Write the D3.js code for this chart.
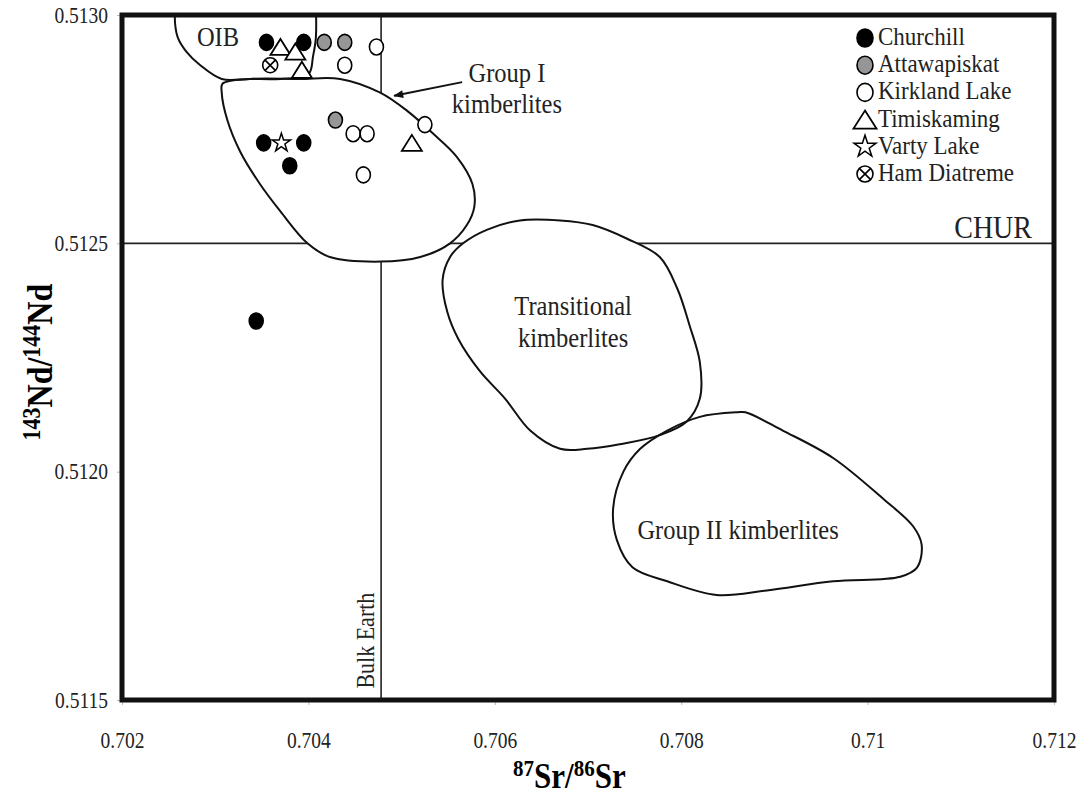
<!DOCTYPE html>
<html>
  <head>
    <meta charset="UTF-8">
    <title>Sr-Nd isotopes of kimberlites</title>
    <style>
      body { margin: 0; background: #fff; }
      svg { display: block; font-family: "Liberation Serif", "Times New Roman", serif; }
    </style>
  </head>
  <body>
    <svg></svg>

    <script src="https://cdn.jsdelivr.net/npm/d3@7"></script>
    <script>

/* DATA : [87Sr/86Sr, 143Nd/144Nd] */

var churchill = [[0.70355, 0.51294], [0.70395, 0.51294], [0.70352, 0.51272],
  [0.70395, 0.51272], [0.70380, 0.51267], [0.70344, 0.51233]];
var attawapiskat = [[0.70417, 0.51294], [0.70439, 0.51294], [0.70429, 0.51277]];
var kirklandLake = [[0.70473, 0.51293], [0.70439, 0.51289], [0.70448, 0.51274],
  [0.70463, 0.51274], [0.70525, 0.51276], [0.70459, 0.51265]];
var timiskaming = [[0.70370, 0.51293], [0.70386, 0.51292], [0.70393, 0.51288], [0.70511, 0.51272]];
var vartyLake = [[0.70371, 0.51272]];
var hamDiatreme = [[0.70359, 0.51289]];

// fields (outlines)
var oibField = [[0.70257, 0.51302], [0.70257, 0.51298], [0.70260, 0.51295], [0.70269, 0.51292],
  [0.70284, 0.51289], [0.70307, 0.51286], [0.70337, 0.51286], [0.70370, 0.51286], [0.70400, 0.51287],
  [0.70405, 0.51291], [0.70408, 0.51295], [0.70408, 0.51302]];
var groupIField = [[0.70308, 0.51285], [0.70337, 0.51286], [0.70391, 0.51286], [0.70434, 0.51286],
  [0.70477, 0.51283], [0.70506, 0.51279], [0.70534, 0.51274], [0.70559, 0.51269],
  [0.70576, 0.51263], [0.70578, 0.51258], [0.70570, 0.51254], [0.70552, 0.51250],
  [0.70520, 0.51247], [0.70477, 0.51246], [0.70423, 0.51247], [0.70399, 0.51250],
  [0.70370, 0.51257], [0.70348, 0.51263], [0.70327, 0.51270], [0.70313, 0.51277], [0.70307, 0.51283]];
var transitionalField = [[0.70566, 0.51250], [0.70592, 0.51253], [0.70627, 0.51255], [0.70670, 0.51255],
  [0.70705, 0.51254], [0.70742, 0.51251], [0.70777, 0.51247], [0.70796, 0.51240],
  [0.70809, 0.51232], [0.70820, 0.51224], [0.70820, 0.51216], [0.70806, 0.51211],
  [0.70777, 0.51208], [0.70734, 0.51206], [0.70699, 0.51205], [0.70670, 0.51205],
  [0.70638, 0.51209], [0.70611, 0.51216], [0.70584, 0.51222], [0.70561, 0.51229],
  [0.70549, 0.51235], [0.70544, 0.51242], [0.70552, 0.51247]];
var groupIIField = [[0.70860, 0.51213], [0.70820, 0.51212], [0.70785, 0.51209], [0.70756, 0.51205],
  [0.70738, 0.51200], [0.70727, 0.51192], [0.70731, 0.51185], [0.70748, 0.51179],
  [0.70785, 0.51176], [0.70838, 0.51173], [0.70892, 0.51174], [0.70963, 0.51176],
  [0.71035, 0.51177], [0.71053, 0.51179], [0.71058, 0.51184], [0.71049, 0.51188],
  [0.71017, 0.51194], [0.70963, 0.51203], [0.70909, 0.51209], [0.70869, 0.51213]];

// reference lines
var chur = 0.5125;
var bulkEarth = 0.70478;

// ticks
var xTicks = [0.702, 0.704, 0.706, 0.708, 0.710, 0.712];
var xTickLabels = ["0.702", "0.704", "0.706", "0.708", "0.71", "0.712"];
var yTicks = [0.5115, 0.5120, 0.5125, 0.5130];
var yTickLabels = ["0.5115", "0.5120", "0.5125", "0.5130"];

// legend
var legendNames = ["Churchill", "Attawapiskat", "Kirkland Lake", "Timiskaming", "Varty Lake", "Ham Diatreme"];
var legendSymbols = ["black", "grey", "white", "triangle", "star", "ham"];

// field labels : text, [sr, nd]
var fieldLabels = [
  {"text": "OIB", "at": [0.70303, 0.51295]},
  {"text": "Group I", "at": [0.70613, 0.51287]},
  {"text": "kimberlites", "at": [0.70613, 0.512802]},
  {"text": "Transitional", "at": [0.70684, 0.51236]},
  {"text": "kimberlites", "at": [0.70684, 0.51229]},
  {"text": "Group II kimberlites", "at": [0.70861, 0.51187]}
];
var arrowFrom = [0.70565, 0.512853];
var arrowTo = [0.70492, 0.512823];

var config = {
  "width": 1085,
  "height": 797,
  "margin": {"top": 15, "right": 31, "bottom": 97, "left": 122},
  "stretch": 1.13   // the scanned figure's text is a bit taller than wide
};

/* BUILD THE CHART */

var svg = d3.select("svg")
  .attr("width", config.width)
  .attr("height", config.height);

var margin = config.margin,
  width = config.width - margin.left - margin.right,
  height = config.height - margin.top - margin.bottom;

var x = d3.scaleLinear().domain([0.702, 0.712]).range([margin.left, margin.left + width]);
var y = d3.scaleLinear().domain([0.5115, 0.5130]).range([margin.top + height, margin.top]);

var defs = svg.append("defs");
defs.append("clipPath").attr("id", "plot")
  .append("rect")
  .attr("x", x(0.702)).attr("y", y(0.5130))
  .attr("width", width).attr("height", height);
defs.append("marker")
  .attr("id", "arrow")
  .attr("markerUnits", "userSpaceOnUse")
  .attr("viewBox", "0 0 10 8")
  .attr("refX", 9).attr("refY", 4)
  .attr("markerWidth", 11).attr("markerHeight", 8)
  .attr("orient", "auto")
  .append("path").attr("d", "M0,0L10,4L0,8Z").attr("fill", "#111");

// text placed at (px, py) and stretched vertically about its baseline
function label(g, px, py, str, size, anchor) {
  return g.append("text")
    .attr("transform", `translate(${px},${py}) scale(1,${config.stretch})`)
    .attr("text-anchor", anchor || "middle")
    .attr("fill", "#222")
    .style("font-size", size + "px")
    .text(str);
}

// axes
var yAxis = d3.axisLeft(y)
  .tickValues(yTicks)
  .tickFormat(function(d, i) { return yTickLabels[i]; })
  .tickSize(5).tickPadding(9);
var gy = svg.append("g").attr("transform", `translate(${x(0.702)},0)`).call(yAxis);

var xAxis = d3.axisBottom(x)
  .tickValues(xTicks)
  .tickFormat(function(d, i) { return xTickLabels[i]; })
  .tickSize(5).tickPadding(24);
var gx = svg.append("g").attr("transform", `translate(0,${y(0.5115)})`).call(xAxis);

[gx, gy].forEach(function(g) {
  g.select(".domain").remove();
  g.selectAll(".tick line").attr("stroke", "#bbb");
  g.selectAll(".tick text")
    .attr("fill", "#222")
    .attr("transform", `scale(1,${config.stretch})`)
    .style("font-family", "Liberation Serif")
    .style("font-size", "19.5px");
});

var plot = svg.append("g").attr("clip-path", "url(#plot)");

// CHUR and Bulk Earth lines
plot.append("line")
  .attr("x1", x(0.702)).attr("x2", x(0.712))
  .attr("y1", y(chur)).attr("y2", y(chur))
  .attr("stroke", "#222").attr("stroke-width", 1.6);
plot.append("line")
  .attr("x1", x(bulkEarth)).attr("x2", x(bulkEarth))
  .attr("y1", y(0.5130)).attr("y2", y(0.5115))
  .attr("stroke", "#222").attr("stroke-width", 1.6);

// fields: white fill first, outlines after
var closedLine = d3.line()
  .x(function(d) { return x(d[0]); })
  .y(function(d) { return y(d[1]); })
  .curve(d3.curveCatmullRomClosed.alpha(0.5));
var openLine = d3.line()
  .x(function(d) { return x(d[0]); })
  .y(function(d) { return y(d[1]); })
  .curve(d3.curveCatmullRom.alpha(0.5));

var fields = [
  {"d": openLine(oibField)},
  {"d": closedLine(groupIField)},
  {"d": closedLine(transitionalField)},
  {"d": closedLine(groupIIField)}
];
plot.selectAll(".field-fill")
  .data(fields)
  .enter().append("path")
    .attr("class", "field-fill")
    .attr("d", function(d) { return d.d; })
    .attr("fill", "#fff")
    .attr("stroke", "none");
plot.selectAll(".field-line")
  .data(fields)
  .enter().append("path")
    .attr("class", "field-line")
    .attr("d", function(d) { return d.d; })
    .attr("fill", "none")
    .attr("stroke", "#111")
    .attr("stroke-width", 2);

// field labels
fieldLabels.forEach(function(d) {
  label(plot, x(d.at[0]), y(d.at[1]) + 8, d.text, 24.5);
});
label(plot, x(0.712) - 22, y(chur) - 5, "CHUR", 28, "end");

plot.append("text")
  .attr("transform", `translate(${x(bulkEarth) - 7},${y(0.51163)}) rotate(-90) scale(1,${config.stretch})`)
  .attr("text-anchor", "middle")
  .attr("fill", "#222")
  .style("font-size", "22px")
  .text("Bulk Earth");

plot.append("line")
  .attr("x1", x(arrowFrom[0])).attr("y1", y(arrowFrom[1]))
  .attr("x2", x(arrowTo[0])).attr("y2", y(arrowTo[1]))
  .attr("stroke", "#111").attr("stroke-width", 2)
  .attr("marker-end", "url(#arrow)");

// symbol drawing helper
function drawSymbol(g, kind, big) {
  var rx = big ? 8 : 7, ry = big ? 9 : 8;
  if (kind == "black" || kind == "grey" || kind == "white") {
    g.append("ellipse")
      .attr("rx", rx).attr("ry", ry)
      .attr("fill", kind == "black" ? "#000" : (kind == "grey" ? "#969696" : "#fff"))
      .attr("stroke", "#000").attr("stroke-width", 1.6);
  } else if (kind == "triangle") {
    var w = big ? 23 : 20, h = big ? 18 : 16;
    g.append("path")
      .attr("d", `M0,${-h/2}L${w/2},${h/2}L${-w/2},${h/2}Z`)
      .attr("fill", "#fff").attr("stroke", "#000").attr("stroke-width", 1.8);
  } else if (kind == "star") {
    g.append("path")
      .attr("d", d3.symbol().type(d3.symbolStar).size(big ? 150 : 105)())
      .attr("fill", "#fff").attr("stroke", "#000").attr("stroke-width", 1.5);
  } else if (kind == "ham") {
    var r = big ? 8 : 7.5, k = r * 0.68;
    g.append("circle").attr("r", r)
      .attr("fill", "#fff").attr("stroke", "#000").attr("stroke-width", 1.6);
    g.append("path")
      .attr("d", `M${-k},${-k}L${k},${k}M${-k},${k}L${k},${-k}`)
      .attr("stroke", "#000").attr("stroke-width", 1.6);
  }
}

var series = [
  {"data": churchill, "kind": "black"},
  {"data": attawapiskat, "kind": "grey"},
  {"data": kirklandLake, "kind": "white"},
  {"data": timiskaming, "kind": "triangle"},
  {"data": vartyLake, "kind": "star"},
  {"data": hamDiatreme, "kind": "ham"}
];

var points = svg.append("g");
series.forEach(function(s) {
  s.data.forEach(function(d) {
    var g = points.append("g")
      .attr("transform", `translate(${x(d[0])},${y(d[1])})`);
    drawSymbol(g, s.kind, false);
  });
});

// legend
var legend = svg.append("g").attr("transform", "translate(865,38)");
legendNames.forEach(function(name, i) {
  var row = legend.append("g").attr("transform", `translate(0,${i * 27.2})`);
  drawSymbol(row, legendSymbols[i], true);
  label(row, 13, 7, name, 23, "start");
});

// frame
svg.append("rect")
  .attr("x", x(0.702)).attr("y", y(0.5130))
  .attr("width", width).attr("height", height)
  .attr("fill", "none")
  .attr("stroke", "#111")
  .attr("stroke-width", 5);

// axis titles
var xt = svg.append("text")
  .attr("transform", `translate(${x(0.7068)},788) scale(1,${config.stretch})`)
  .attr("text-anchor", "middle")
  .style("font-weight", "bold")
  .style("font-size", "31px");
xt.append("tspan").attr("dy", "-11").style("font-size", "21px").text("87");
xt.append("tspan").attr("dy", "11").text("Sr/");
xt.append("tspan").attr("dy", "-11").style("font-size", "21px").text("86");
xt.append("tspan").attr("dy", "11").text("Sr");

var yt = svg.append("text")
  .attr("transform", `translate(52,${y(0.51224)}) rotate(-90) scale(1,${config.stretch})`)
  .attr("text-anchor", "middle")
  .style("font-weight", "bold")
  .style("font-size", "32px");
yt.append("tspan").attr("dy", "-11").style("font-size", "22px").text("143");
yt.append("tspan").attr("dy", "11").text("Nd/");
yt.append("tspan").attr("dy", "-11").style("font-size", "22px").text("144");
yt.append("tspan").attr("dy", "11").text("Nd");

    </script>
  </body>
</html>
